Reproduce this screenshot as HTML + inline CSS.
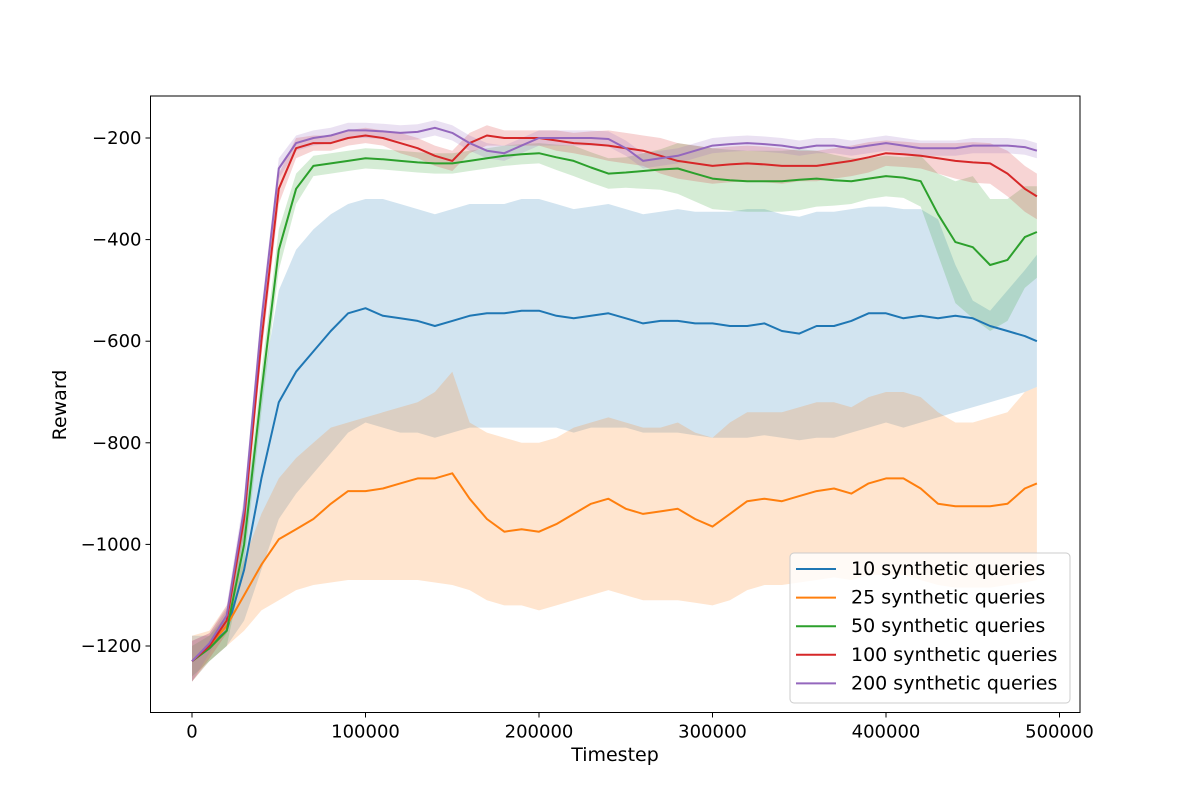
<!DOCTYPE html>
<html><head><meta charset="utf-8"><style>
body{margin:0;background:#fff}
svg{display:block;font-family:"DejaVu Sans","Liberation Sans",sans-serif}
</style></head><body>
<svg id="chart" width="1200" height="800" viewBox="0 0 1200 800" xmlns="http://www.w3.org/2000/svg"></svg>
<script>
const steps=[0,10000,20000,30000,40000,50000,60000,70000,80000,90000,100000,110000,120000,130000,140000,150000,160000,170000,180000,190000,200000,210000,220000,230000,240000,250000,260000,270000,280000,290000,300000,310000,320000,330000,340000,350000,360000,370000,380000,390000,400000,410000,420000,430000,440000,450000,460000,470000,480000,487000];
const xTicks=[0,100000,200000,300000,400000,500000];
const yTicks=[-200,-400,-600,-800,-1000,-1200];
const seriesNames=["10 synthetic queries","25 synthetic queries","50 synthetic queries","100 synthetic queries","200 synthetic queries"];
const colors=["#1f77b4","#ff7f0e","#2ca02c","#d62728","#9467bd"];
const blueMean=[-1230,-1200,-1170,-1050,-870,-720,-660,-620,-580,-545,-535,-550,-555,-560,-570,-560,-550,-545,-545,-540,-540,-550,-555,-550,-545,-555,-565,-560,-560,-565,-565,-570,-570,-565,-580,-585,-570,-570,-560,-545,-545,-555,-550,-555,-550,-555,-570,-580,-590,-600];
const blueUpper=[-1180,-1180,-1130,-950,-700,-500,-420,-380,-350,-330,-320,-320,-330,-340,-350,-340,-330,-330,-330,-320,-320,-330,-340,-335,-330,-340,-350,-345,-340,-345,-345,-345,-340,-340,-350,-355,-345,-345,-340,-335,-335,-340,-340,-360,-450,-520,-540,-500,-460,-430];
const blueLower=[-1270,-1230,-1200,-1150,-1050,-950,-900,-860,-820,-780,-760,-770,-780,-780,-790,-780,-770,-770,-770,-770,-770,-770,-780,-770,-770,-770,-780,-780,-780,-785,-790,-790,-790,-785,-790,-795,-790,-790,-780,-770,-760,-770,-760,-750,-740,-730,-720,-710,-700,-690];
const orangeMean=[-1230,-1200,-1160,-1100,-1040,-990,-970,-950,-920,-895,-895,-890,-880,-870,-870,-860,-910,-950,-975,-970,-975,-960,-940,-920,-910,-930,-940,-935,-930,-950,-965,-940,-915,-910,-915,-905,-895,-890,-900,-880,-870,-870,-890,-920,-925,-925,-925,-920,-890,-880];
const orangeUpper=[-1180,-1170,-1120,-1030,-940,-870,-830,-800,-770,-760,-750,-740,-730,-720,-700,-660,-760,-780,-790,-800,-800,-790,-770,-760,-750,-760,-770,-770,-760,-780,-790,-760,-740,-740,-740,-730,-720,-720,-730,-710,-700,-700,-710,-740,-760,-760,-750,-740,-700,-690];
const orangeLower=[-1270,-1230,-1200,-1170,-1130,-1110,-1090,-1080,-1075,-1070,-1070,-1070,-1070,-1070,-1075,-1080,-1090,-1110,-1120,-1120,-1130,-1120,-1110,-1100,-1090,-1100,-1110,-1110,-1110,-1115,-1120,-1110,-1090,-1080,-1080,-1075,-1070,-1065,-1070,-1060,-1060,-1060,-1070,-1080,-1085,-1085,-1085,-1080,-1075,-1070];
const greenMean=[-1230,-1205,-1170,-1000,-700,-420,-300,-255,-250,-245,-240,-242,-245,-248,-250,-250,-245,-240,-235,-232,-230,-238,-245,-258,-270,-268,-265,-262,-260,-270,-280,-283,-285,-285,-285,-282,-280,-283,-285,-280,-275,-278,-285,-350,-405,-415,-450,-440,-395,-385];
const greenSpread=[30,25,30,40,40,40,30,20,20,20,20,20,20,20,20,20,20,20,20,20,20,25,30,30,30,30,35,40,50,55,60,60,60,60,60,60,55,50,45,40,40,40,50,80,120,140,130,120,100,90];
const redMean=[-1230,-1200,-1150,-950,-600,-300,-220,-210,-210,-200,-195,-200,-210,-220,-235,-245,-210,-195,-200,-200,-200,-205,-210,-212,-215,-220,-225,-235,-245,-250,-255,-252,-250,-252,-255,-255,-255,-250,-245,-238,-230,-232,-235,-240,-245,-248,-250,-270,-300,-315];
const redSpread=[40,25,25,30,30,30,20,15,15,15,15,15,20,20,20,20,20,20,15,15,15,20,20,25,30,30,30,35,35,35,35,35,35,35,35,30,30,30,30,30,25,25,25,30,35,40,40,45,45,45];
const purpleMean=[-1230,-1195,-1140,-930,-560,-260,-210,-200,-195,-185,-185,-187,-190,-188,-180,-190,-210,-225,-230,-215,-200,-200,-200,-200,-202,-220,-245,-240,-235,-225,-215,-212,-210,-212,-215,-220,-215,-215,-220,-215,-210,-215,-220,-220,-220,-215,-215,-215,-218,-225];
const purpleSpread=[40,20,20,25,25,20,15,15,15,15,15,15,15,15,15,15,15,15,15,15,15,15,15,15,15,15,15,15,15,15,15,15,15,15,15,15,15,15,15,15,15,15,15,15,15,15,15,15,15,15];

const svg=document.getElementById('chart');
const NS='http://www.w3.org/2000/svg';
const L=150.5,R=1080,T=96,B=712.5;
const xS=v=>192+v*(886-192)/400000;
const yS=v=>138+(v+200)*(646-138)/(-1000);
function mk(tag,attrs,parent){const e=document.createElementNS(NS,tag);for(const k in attrs)e.setAttribute(k,attrs[k]);(parent||svg).appendChild(e);return e;}

const plot=mk('g',{});



const bands=[
 [blueUpper,blueLower],
 [orangeUpper,orangeLower],
 [greenMean.map((m,i)=>m+greenSpread[i]),greenMean.map((m,i)=>m-greenSpread[i])],
 [redMean.map((m,i)=>m+redSpread[i]),redMean.map((m,i)=>m-redSpread[i])],
 [purpleMean.map((m,i)=>m+purpleSpread[i]),purpleMean.map((m,i)=>m-purpleSpread[i])]
];
const means=[blueMean,orangeMean,greenMean,redMean,purpleMean];
bands.forEach((b,s)=>{
  let d='M'+steps.map((x,i)=>xS(x).toFixed(1)+','+yS(b[0][i]).toFixed(1)).join('L');
  for(let i=steps.length-1;i>=0;i--)d+='L'+xS(steps[i]).toFixed(1)+','+yS(b[1][i]).toFixed(1);
  const p=mk('path',{d:d+'Z',fill:colors[s],'fill-opacity':0.2,stroke:'none'},plot);
  
  
});
means.forEach((m,s)=>{
  const d='M'+steps.map((x,i)=>xS(x).toFixed(1)+','+yS(m[i]).toFixed(1)).join('L');
  const p=mk('path',{d:d,fill:'none',stroke:colors[s],'stroke-width':2,'stroke-linejoin':'round'},plot);
  
  
});
const frame=mk('rect',{x:L,y:T,width:R-L,height:B-T,fill:'none',stroke:'#000','stroke-width':1});



xTicks.forEach(v=>{
  const x=xS(v);
  mk('line',{x1:x,x2:x,y1:B,y2:B+5,stroke:'#000'});
  const t=mk('text',{x:x,y:B+25,'text-anchor':'middle','font-size':18});
  t.textContent=String(v);
  
  
});
yTicks.forEach(v=>{
  const y=yS(v);
  mk('line',{x1:L-5,x2:L,y1:y,y2:y,stroke:'#000'});
  const t=mk('text',{x:L-9,y:y+6,'text-anchor':'end','font-size':18});
  t.textContent='\u2212'+Math.abs(v);
  
  
});
const xt=mk('text',{x:615,y:761,'text-anchor':'middle','font-size':19});
xt.textContent='Timestep';


const yt=mk('text',{x:66,y:405,'text-anchor':'middle','font-size':19,transform:'rotate(-90 66 405)'});
yt.textContent='Reward';



const lg=mk('g',{});


mk('rect',{x:790,y:553,width:280,height:150,rx:4,fill:'#fff','fill-opacity':0.8,stroke:'#ccc'},lg);
seriesNames.forEach((n,i)=>{
  const y=569+i*28.6;
  const e=mk('g',{},lg);
  
  
  mk('line',{x1:796,x2:836,y1:y,y2:y,stroke:colors[i],'stroke-width':2},e);
  const t=mk('text',{x:851,y:y+6,'font-size':19},e);
  t.textContent=n;
});
</script>
</body></html>
